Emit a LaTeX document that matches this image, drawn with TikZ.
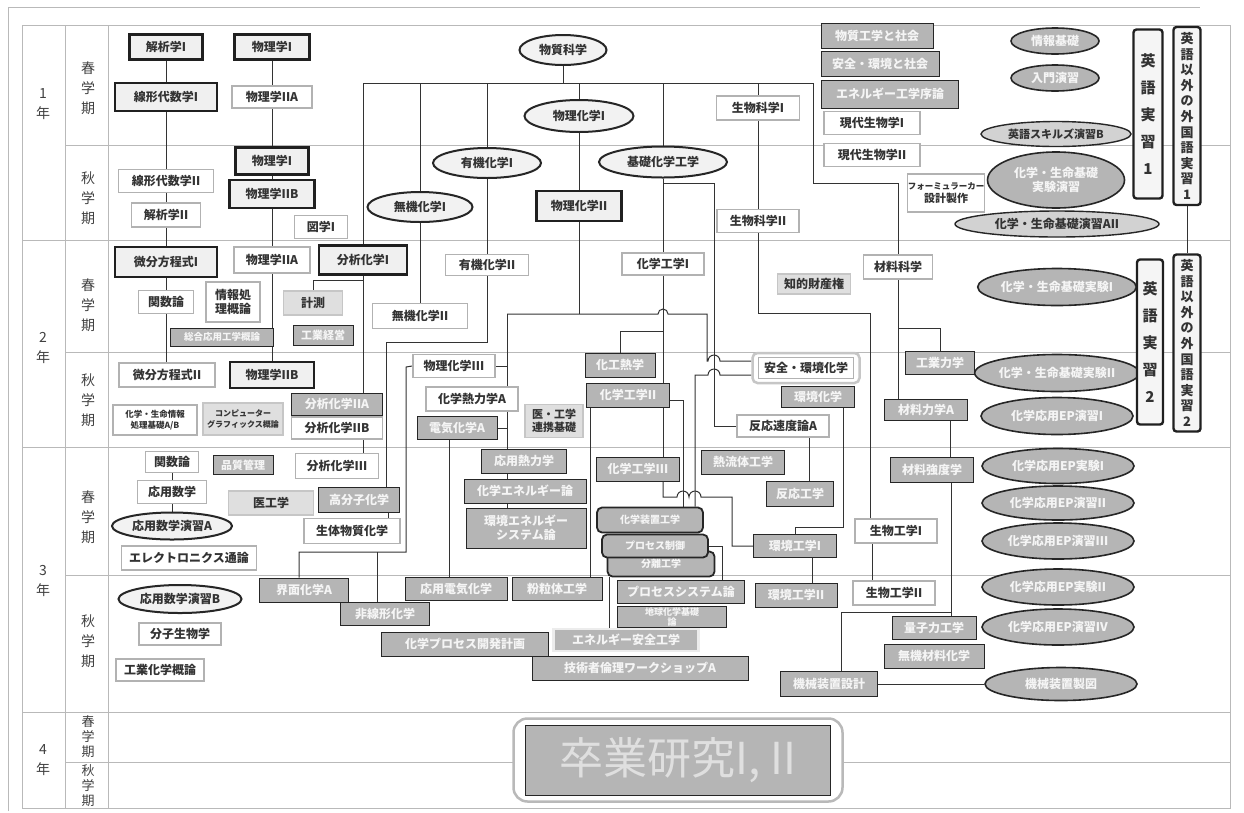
\documentclass[tikz,border=0pt]{standalone}
\usepackage{fontspec}
\setmainfont{Noto Sans CJK JP}
\usetikzlibrary{shapes.geometric,backgrounds}
\begin{document}
\begin{tikzpicture}[x=1pt,y=-1pt,
 every node/.style={inner sep=0pt,font=\fontsize{12}{14}\selectfont\bfseries,text=black!80,align=center},
 sz/.style 2 args={minimum width=#1,minimum height=#2},
 pb/.style={rectangle,draw=gray!60,line width=1.6pt,fill=white},
 tb/.style={rectangle,draw=gray!25!black,line width=2.6pt,fill=gray!12},
 db/.style={rectangle,draw=gray!30!black,line width=1pt,fill=gray!58,text=gray!8},
 lb/.style={rectangle,draw=gray!45,line width=1.2pt,fill=gray!25},
 we/.style={ellipse,draw=gray!30!black,line width=2pt,fill=gray!10},
 de/.style={ellipse,draw=gray!30!black,line width=1.6pt,fill=gray!58,text=gray!8},
 le/.style={ellipse,draw=gray!30!black,line width=1.4pt,fill=gray!35},
 vb/.style={rectangle,rounded corners=3pt,draw=gray!25!black,line width=2.4pt,fill=gray!8},
 sf/.style={rectangle,rounded corners=5pt,draw=gray!30!black,line width=1.8pt,fill=gray!58,text=gray!8,font=\fontsize{10}{12}\selectfont\bfseries},
 ln/.style={draw=gray!40!black,line width=1pt},
 gl/.style={draw=gray!55,line width=0.8pt},
 lab/.style={font=\fontsize{14}{20}\selectfont,text=black!75},
]
\useasboundingbox (0,0) rectangle (1244,812);

% ---- labels
\node[lab] (y1) at (43,104) {1\\年};
\node[lab] (y2) at (43,348) {2\\年};
\node[lab] (y3) at (43,581) {3\\年};
\node[lab] (y4) at (43,760) {4\\年};
\node[lab] (s1a) at (88,88) {春\\学\\期};
\node[lab] (s1b) at (88,198) {秋\\学\\期};
\node[lab] (s2a) at (88,305) {春\\学\\期};
\node[lab] (s2b) at (88,400) {秋\\学\\期};
\node[lab] (s3a) at (88,517) {春\\学\\期};
\node[lab] (s3b) at (88,641) {秋\\学\\期};
\node[lab,font=\fontsize{13}{15}\selectfont] (s4a) at (88,737) {春\\学\\期};
\node[lab,font=\fontsize{13}{15}\selectfont] (s4b) at (88,786) {秋\\学\\期};

% ---- year 1
\node[tb,sz={73}{25}] (kai1) at (166,47) {解析学I};
\node[tb,sz={75}{25}] (phy1) at (272,47) {物理学I};
\node[tb,sz={102}{28}] (sen1) at (166,97) {線形代数学I};
\node[pb,sz={80}{22}] (phy2a) at (272,97) {物理学IIA};
\node[pb,sz={95}{23}] (sen2) at (166,181) {線形代数学II};
\node[pb,sz={69}{24}] (kai2) at (166,215) {解析学II};
\node[tb,sz={73}{27}] (phy1f) at (272,161) {物理学I};
\node[tb,sz={85}{28}] (phy2b) at (272,194) {物理学IIB};
\node[pb,sz={53}{23}] (zu1) at (321,227) {図学I};
\node[we,sz={87}{30}] (bus) at (563,50) {物質科学};
\node[we,sz={109}{32}] (pc1) at (579,116) {物理化学I};
\node[we,sz={108}{30}] (oc1) at (487,163) {有機化学I};
\node[we,sz={128}{31}] (kk) at (663,162) {基礎化学工学};
\node[we,sz={105}{30}] (ic1) at (420,207) {無機化学I};
\node[pb,sz={83}{24}] (bio1) at (758,108) {生物科学I};
\node[tb,sz={85}{30}] (pc2) at (579,206) {物理化学II};
\node[pb,sz={82}{23}] (bio2) at (758,221) {生物科学II};
\node[db,sz={112}{25}] (bk) at (877,36) {物質工学と社会};
\node[db,sz={118}{25}] (an) at (880,64) {安全・環境と社会};
\node[db,sz={137}{28}] (en) at (890,94) {エネルギー工学序論};
\node[pb,sz={96}{23}] (gen1) at (872,123) {現代生物学I};
\node[pb,sz={96}{23}] (gen2) at (872,155) {現代生物学II};
\node[pb,sz={77}{38},font=\fontsize{8.5}{13}\selectfont\bfseries] (fc) at (946,193) {フォーミュラーカー\\{\fontsize{11}{13}\selectfont 設計製作}};
\node[de,sz={88}{26}] (e1) at (1055,41) {情報基礎};
\node[de,sz={88}{26}] (e2) at (1055,78) {入門演習};
\node[le,sz={150}{25},font=\fontsize{11}{13}\selectfont\bfseries] (e3) at (1056,134) {英語スキルズ演習B};
\node[de,sz={137}{56}] (e4) at (1056,180) {化学・生命基礎\\実験演習};
\node[le,sz={204}{26}] (e5) at (1057,224) {化学・生命基礎演習AII};
\node[vb,sz={29}{169},font=\fontsize{15}{27}\selectfont\bfseries] (eng1) at (1148,114) {英\\語\\実\\習\\1};
\node[vb,sz={27}{178},font=\fontsize{13}{15.6}\selectfont\bfseries] (for1) at (1187,116) {英\\語\\以\\外\\の\\外\\国\\語\\実\\習\\1};

% ---- year 2
\node[tb,sz={102}{30}] (bib1) at (166,262) {微分方程式I};
\node[pb,sz={55}{23}] (kan) at (166,302) {関数論};
\node[pb,sz={54}{40}] (joho) at (233,302) {情報処\\理概論};
\node[db,sz={103}{18},font=\fontsize{9.5}{11}\selectfont\bfseries] (sogo) at (222,337) {総合応用工学概論};
\node[pb,sz={76}{26}] (phy2a2) at (272,260) {物理学IIA};
\node[tb,sz={88}{29}] (an1) at (363,260) {分析化学I};
\node[lb,sz={59}{24}] (keis) at (313,303) {計測};
\node[db,sz={60}{20},font=\fontsize{11}{13}\selectfont\bfseries] (kogy) at (323,335) {工業経営};
\node[pb,sz={96}{24}] (bib2) at (167,375) {微分方程式II};
\node[tb,sz={84}{26}] (phy2b2) at (272,375) {物理学IIB};
\node[pb,sz={84}{30},font=\fontsize{8.5}{11}\selectfont\bfseries] (kjoho) at (155,420) {化学・生命情報\\処理基礎A/B};
\node[lb,sz={80}{32},font=\fontsize{8}{11}\selectfont\bfseries] (cg) at (243,419) {コンピューター\\グラフィックス概論};
\node[db,sz={91}{22}] (an2a) at (337,404) {分析化学IIA};
\node[pb,sz={91}{22}] (an2b) at (337,428) {分析化学IIB};
\node[pb,sz={83}{21}] (oc2) at (487,265) {有機化学II};
\node[pb,sz={95}{25}] (ic2) at (420,316) {無機化学II};
\node[pb,sz={82}{22}] (ce1) at (663,264) {化学工学I};
\node[db,sz={70}{24}] (kako) at (620,365) {化工熱学};
\node[db,sz={83}{24}] (ce2) at (628,395) {化学工学II};
\node[pb,sz={82}{23}] (pc3) at (454,366) {物理化学III};
\node[pb,sz={92}{24}] (ctA) at (472,399) {化学熱力学A};
\node[db,sz={80}{23}] (denki) at (457,428) {電気化学A};
\node[lb,sz={58}{33},font=\fontsize{11}{13}\selectfont\bfseries] (ikou) at (554,421) {医・工学\\連携基礎};
\node[rectangle,rounded corners=5pt,draw=gray!45,line width=2.5pt,fill=white,sz={107}{30}] (anzF) at (806,368) {};
\node[pb,sz={95}{21}] (anz) at (806,368) {安全・環境化学};
\node[db,sz={73}{21}] (kanka) at (818,397) {環境化学};
\node[pb,sz={92}{22}] (hanA) at (783,426) {反応速度論A};
\node[pb,sz={69}{24}] (zai) at (898,267) {材料科学};
\node[lb,sz={73}{20}] (chiteki) at (814,284) {知的財産権};
\node[db,sz={69}{23}] (kogyoR) at (940,363) {工業力学};
\node[db,sz={83}{21}] (zrA) at (926,410) {材料力学A};
\node[de,sz={153}{37}] (exp1) at (1057,287) {化学・生命基礎実験I};
\node[de,sz={153}{37}] (exp2) at (1057,373) {化学・生命基礎実験II};
\node[de,sz={152}{37}] (ep1) at (1057,416) {化学応用EP演習I};
\node[vb,sz={26}{165},font=\fontsize{15}{27}\selectfont\bfseries] (eng2) at (1150,342) {英\\語\\実\\習\\2};
\node[vb,sz={27}{177},font=\fontsize{13}{15.6}\selectfont\bfseries] (for2) at (1187,343) {英\\語\\以\\外\\の\\外\\国\\語\\実\\習\\2};

% ---- year 3
\node[pb,sz={53}{21}] (kan3) at (172,462) {関数論};
\node[db,sz={60}{19},font=\fontsize{11}{13}\selectfont\bfseries] (hin) at (243,465) {品質管理};
\node[pb,sz={83}{25}] (an3) at (337,466) {分析化学III};
\node[pb,sz={69}{23}] (ouyou) at (172,492) {応用数学};
\node[lb,sz={85}{24}] (ikog) at (271,503) {医工学};
\node[db,sz={81}{25}] (kobun) at (359,500) {高分子化学};
\node[we,sz={120}{27}] (oA) at (172,526) {応用数学演習A};
\node[pb,sz={96}{25}] (seitai) at (352,531) {生体物質化学};
\node[pb,sz={135}{24}] (elec) at (189,558) {エレクトロニクス通論};
\node[we,sz={123}{28}] (oB) at (180,599) {応用数学演習B};
\node[pb,sz={82}{22}] (bunshi) at (180,634) {分子生物学};
\node[pb,sz={88}{22}] (kougyo) at (160,670) {工業化学概論};
\node[db,sz={89}{24}] (kaimen) at (304,590) {界面化学A};
\node[db,sz={89}{23}] (hisen) at (385,614) {非線形化学};
\node[db,sz={102}{23}] (oden) at (456,589) {応用電気化学};
\node[db,sz={90}{23}] (fun) at (557,589) {粉粒体工学};
\node[db,sz={85}{24}] (ounetsu) at (524,461) {応用熱力学};
\node[db,sz={122}{24}] (cen) at (525,491) {化学エネルギー論};
\node[db,sz={120}{40}] (kankyoE) at (526,528) {環境エネルギー\\システム論};
\node[db,sz={83}{24}] (ce3) at (638,469) {化学工学III};
\node[db,sz={83}{24}] (netsu) at (743,462) {熱流体工学};
\node[db,sz={67}{25}] (hko) at (800,494) {反応工学};
\node[sf,sz={107}{25}] (stF3) at (661,564) {分離工学};
\node[sf,sz={106}{23}] (stF2) at (655,546) {プロセス制御};
\node[sf,sz={106}{25}] (stF1) at (650,520) {化学装置工学};
\node[db,sz={127}{23}] (proc) at (681,592) {プロセスシステム論};
\node[db,sz={109}{21},font=\fontsize{9}{10}\selectfont\bfseries] (chik) at (672,617) {地球化学基礎\\論};
\node[db,sz={167}{24}] (kpk) at (465,644) {化学プロセス開発計画};
\node[db,draw=gray!15,line width=2.5pt,sz={145}{22}] (eneAn) at (626,640) {エネルギー安全工学};
\node[db,sz={216}{24}] (giju) at (640,668) {技術者倫理ワークショップA};
\node[db,sz={83}{23}] (kan1) at (795,546) {環境工学I};
\node[db,sz={82}{24}] (kan2) at (796,595) {環境工学II};
\node[db,sz={83}{25}] (zkyo) at (932,470) {材料強度学};
\node[pb,sz={82}{24}] (seib1) at (896,531) {生物工学I};
\node[pb,sz={82}{24}] (seib2) at (894,593) {生物工学II};
\node[db,sz={84}{23}] (ryoshi) at (934,628) {量子力工学};
\node[db,sz={100}{24}] (muki) at (934,656) {無機材料化学};
\node[db,sz={97}{25}] (kikai) at (829,684) {機械装置設計};
\node[de,sz={152}{33}] (seizu) at (1061,684) {機械装置製図};
\node[de,sz={152}{35}] (epx1) at (1058,466) {化学応用EP実験I};
\node[de,sz={152}{34}] (epe2) at (1058,503) {化学応用EP演習II};
\node[de,sz={152}{36}] (epe3) at (1058,541) {化学応用EP演習III};
\node[de,sz={152}{36}] (epx2) at (1058,587) {化学応用EP実験II};
\node[de,sz={152}{36}] (epe4) at (1058,627) {化学応用EP演習IV};

% ---- year 4
\node[rectangle,rounded corners=14pt,draw=gray!55,line width=2.5pt,fill=white,sz={329}{83}] (sotF) at (678,760) {};
\node[db,sz={305}{70},font=\fontsize{44}{48}\selectfont,text=gray!25] (sot) at (678,760) {卒業研究I, II};

\begin{scope}[on background layer]
\fill[white] (0,0) rectangle (1244,812);
% grid
\draw[gl] (8,811) -- (8,7) -- (1200,7);
\draw[gl] (22,25) rectangle (1230,808);
\draw[gl] (65,25) -- (65,808);
\draw[gl] (108,25) -- (108,808);
\foreach \yy in {240,447,712} \draw[gl] (22,\yy) -- (1230,\yy);
\foreach \yy in {145,352,575,762} \draw[gl] (65,\yy) -- (1230,\yy);

% year 1
\draw[ln] (kai1.south) -- (kai1.south |- sen1.north);
\draw[ln] (sen1.south) -- (sen1.south |- bib1.north);
\draw[ln] (phy1.south) -- (phy1.south |- phy2b2.north);
\coordinate (bL) at (363,83); \coordinate (bR) at (813,83);
\coordinate (bR2) at (813,183); \coordinate (bR3) at (898,183);
\draw[ln] (bus.south) -- (bus.south |- bL);
\draw[ln] (bL) -- (bR) -- (bR2) -- (bR3) -- (zai.north);
\draw[ln] (bL) -- (an1.north);
\draw[ln] (ic1.north |- bL) -- (ic1.north);
\draw[ln] (oc1.north |- bL) -- (oc1.north);
\draw[ln] (pc1.north |- bL) -- (pc1.north);
\draw[ln] (kk.north |- bL) -- (kk.north);
\draw[ln] (bio1.north |- bL) -- (bio1.north);
\draw[ln] (ic1.south) -- (ic2.north);
\draw[ln] (oc1.south) -- (oc2.north);
\draw[ln] (pc1.south) -- (pc2.north);
\draw[ln] (kk.south) -- (ce1.north);
\coordinate (k1) at (663,183); \coordinate (k2) at (714,183);
\draw[ln] (k1) -- (k2) |- (hanA.west);
\draw[ln] (bio1.south) -- (bio2.north);
\coordinate (b1) at (758,313); \coordinate (b2) at (870,313);
\draw[ln] (bio2.south) -- (b1) -- (b2) -- (b2 |- seib1.north);
\draw[ln] (zai.south) -- (zai.south |- zrA.north);
\coordinate (z1) at (898,328);
\draw[ln] (z1) -| (kogyoR.north);
\draw[ln] (for1.south) -- (for2.north);

% year 2
\draw[ln] (bib1.south) -- (bib1.south |- bib2.north);
\draw[ln] (an1.south) -- (an1.south |- an2a.north);
\coordinate (a1) at (363,280);
\draw[ln] (a1) -| (keis.north);
\draw[ln] ([xshift=26]an2b.south) -- ([xshift=26]an2b.south |- an3.north);
\coordinate (o1) at (487,342); \coordinate (o2) at (386,342);
\draw[ln] (oc2.south) -- (o1) -- (o2) -- (o2 |- kobun.north);
\draw[ln] ([xshift=29]kobun.south) -- ([xshift=29]kobun.south |- seitai.north);
\coordinate (p1) at (579,314); \coordinate (p2) at (507,314); \coordinate (p3) at (707,314);
\draw[ln] (pc2.south) -- (p1);
\draw[ln] (p2) -- (p1) -- (658,314) arc[start angle=180,end angle=360,radius=5] -- (p3) -- (707,361) -- (708,361) arc[start angle=180,end angle=360,radius=6] -- (anzF.west |- 0,361);
\draw[ln] (p2) -- (p2 |- kankyoE.north);
\draw[ln] (pc3.east) -- (pc3.east -| p2);
\draw[ln] (denki.east) -- (denki.east -| p2);
\coordinate (q0) at (406,367); \coordinate (q1) at (406,552);
\coordinate (q2) at (377,552); \coordinate (q3) at (299,552);
\draw[ln] (pc3.west) -- (q0) -- (q1) -- (q3) -- (q3 |- kaimen.north);
\draw[ln] (q2) -- (q2 |- hisen.north);
\draw[ln] ([xshift=-8]denki.south) -- ([xshift=-8]denki.south |- oden.north);
\draw[ln] (ce1.south) -- (ce1.south |- ce3.north);
\coordinate (c1) at (663,331);
\draw[ln] (c1) -| (kako.north);
\draw[ln] ([xshift=-38]ce2.south) -- ([xshift=-38]ce2.south |- fun.north);
\draw[ln] (ce3.south -| c1) -- (663,497) -- (677,497) arc[start angle=180,end angle=360,radius=6] -- (689,497) arc[start angle=180,end angle=360,radius=6] -- (732,497) -- (732,546) -- (kan1.west);
\coordinate (h1) at (683,400);
\draw[ln] (ce2.east |- h1) -- (h1) -- (h1 |- stF1.north);
\coordinate (h2) at (695,375);
\draw[ln] (anzF.west |- 0,375) -- (720,375) arc[start angle=360,end angle=180,radius=6] -- (h2) -- (h2 |- stF1.north);
\draw[ln] ([xshift=26]hanA.south) -- ([xshift=26]hanA.south |- hko.north);
\coordinate (k3) at (843,527);
\draw[ln] ([xshift=25]kanka.south) -- (k3) -| (kan1.north);
\draw[ln] ([xshift=17]kan1.south) -- ([xshift=17]kan1.south |- kan2.north);
\draw[ln] ([xshift=24]zrA.south) -- ([xshift=24]zrA.south |- zkyo.north);
\coordinate (m1) at (951,612); \coordinate (m2) at (841,612);
\draw[ln] ([xshift=19]zkyo.south) -- (ryoshi.north -| m1);
\draw[ln] (m1) -- (m2) -- (m2 |- kikai.north);
\draw[ln] ([xshift=-24]seib1.south) -- ([xshift=-24]seib1.south |- seib2.north);
\draw[ln] (kikai.east) -- (seizu.west);
\draw[ln] (kan3.south) -- (oA.north);
\coordinate (s1) at (722,546);
\draw[ln] (stF2.east) -- (s1) -- (s1 |- proc.north);
\draw[ln] ([xshift=3]stF3.south west) -- ([xshift=3]stF3.south west |- eneAn.north);
\end{scope}
\end{tikzpicture}
\end{document}
